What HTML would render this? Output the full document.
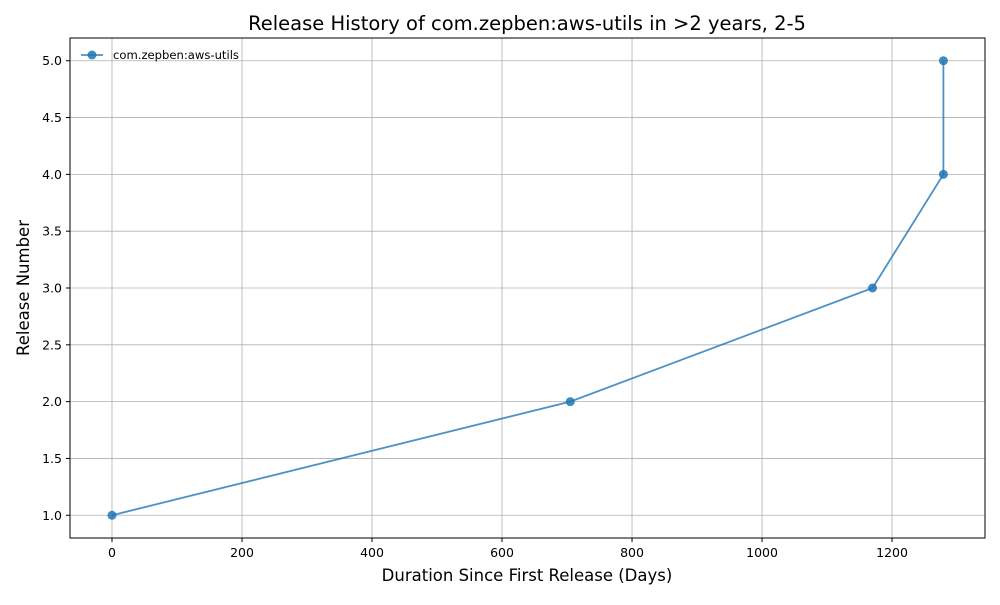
<!DOCTYPE html>
<html><head><meta charset="utf-8"><style>body{margin:0;background:#fff}svg{font-family:"DejaVu Sans","Liberation Sans",sans-serif}</style></head>
<body>
<svg id="c" width="1000" height="600"></svg>
<script>
const xs=[0,705,1170,1279,1279];
const ys=[1,2,3,4,5];
const xTicks=[0,200,400,600,800,1000,1200];
const yTicks=[1.0,1.5,2.0,2.5,3.0,3.5,4.0,4.5,5.0];
const L=70,R=985,T=38,B=538;
const xmin=-64.6,xmax=1343,ymin=0.8,ymax=5.2;
const X=v=>L+(v-xmin)/(xmax-xmin)*(R-L);
const Y=v=>B-(v-ymin)/(ymax-ymin)*(B-T);
const s=document.getElementById('c');const NS='http://www.w3.org/2000/svg';
function mk(t,a,p){const e=document.createElementNS(NS,t);for(const k in a)e.setAttribute(k,a[k]);(p||s).appendChild(e);return e;}
xTicks.forEach(v=>{const x=X(v);
const g=mk('line',{x1:x,x2:x,y1:T,y2:B,stroke:'#b0b0b0','stroke-width':0.8});

mk('line',{x1:x,x2:x,y1:B,y2:B+4,stroke:'#000'});
const t=mk('text',{x:x,y:B+19,'text-anchor':'middle','font-size':12.5});t.textContent=v;
});
yTicks.forEach(v=>{const y=Y(v);
const g=mk('line',{x1:L,x2:R,y1:y,y2:y,stroke:'#b0b0b0','stroke-width':0.8});

mk('line',{x1:L-4,x2:L,y1:y,y2:y,stroke:'#000'});
const t=mk('text',{x:L-8,y:y+4.5,'text-anchor':'end','font-size':12.5});t.textContent=v.toFixed(1);
});
const f=mk('rect',{x:L,y:T,width:R-L,height:B-T,fill:'none',stroke:'#000','stroke-width':1});

const pl=mk('polyline',{points:xs.map((v,i)=>X(v)+','+Y(ys[i])).join(' '),fill:'none',stroke:'#1f77b4','stroke-opacity':0.8,'stroke-width':1.8});

xs.forEach((v,i)=>{const c=mk('circle',{cx:X(v),cy:Y(ys[i]),r:4.5,fill:'#1f77b4','fill-opacity':0.85});
});
mk('line',{x1:81,x2:103,y1:55,y2:55,stroke:'#1f77b4','stroke-opacity':0.8,'stroke-width':1.8});
mk('circle',{cx:92,cy:55,r:4.5,fill:'#1f77b4','fill-opacity':0.85});
const lt=mk('text',{x:113,y:59,'font-size':11.6});lt.textContent='com.zepben:aws-utils';

const ti=mk('text',{x:527,y:30,'text-anchor':'middle','font-size':19.5});ti.textContent='Release History of com.zepben:aws-utils in >2 years, 2-5';

const xt=mk('text',{x:527,y:581,'text-anchor':'middle','font-size':16.5});xt.textContent='Duration Since First Release (Days)';

const yt=mk('text',{x:29,y:288,'text-anchor':'middle','font-size':16.5,transform:'rotate(-90 29 288)'});yt.textContent='Release Number';

</script>
</body></html>
